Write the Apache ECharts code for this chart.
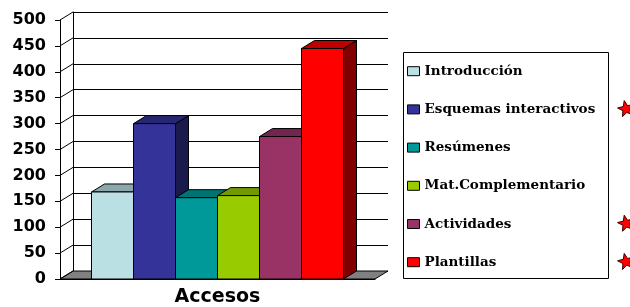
<!DOCTYPE html>
<html>
<head>
<meta charset="utf-8">
<script src="https://cdn.jsdelivr.net/npm/echarts@6/dist/echarts.min.js"></script>
<style>
html, body { margin: 0; padding: 0; background: #fff; }
#chart { width: 630px; height: 307px; }
</style>
</head>
<body>
<div id="chart"></div>
<script>
// datos
const categories = ['Accesos'];
const seriesNames = ['Introducción', 'Esquemas interactivos', 'Resúmenes', 'Mat.Complementario', 'Actividades', 'Plantillas'];
const seriesValues = [168, 300, 157, 161, 275, 445];
const yTicks = [0, 50, 100, 150, 200, 250, 300, 350, 400, 450, 500];
const starred = ['Esquemas interactivos', 'Actividades', 'Plantillas'];

const colors = ['#BBE0E3', '#333399', '#009999', '#99CC00', '#993366', '#FF0000'];
const DX = 13, DY = 8; // profundidad 3D

function shade(hex, f) {
  const n = parseInt(hex.slice(1), 16);
  const r = Math.round(((n >> 16) & 255) * f);
  const g = Math.round(((n >> 8) & 255) * f);
  const b = Math.round((n & 255) * f);
  return 'rgb(' + r + ',' + g + ',' + b + ')';
}

function renderBar(i) {
  return function (params, api) {
    const band = api.size([1, 0])[0];
    const w = band * 0.8 / seriesNames.length;
    const top = api.coord([api.value(0), api.value(1)]);
    const base = api.coord([api.value(0), 0]);
    const x0 = top[0] - band * 0.4 + i * w, x1 = x0 + w;
    const yt = top[1], yb = base[1];
    const col = colors[i];
    return {
      type: 'group',
      children: [
        { type: 'polygon', shape: { points: [[x1, yt], [x1 + DX, yt - DY], [x1 + DX, yb - DY], [x1, yb]] },
          style: { fill: shade(col, 0.5), stroke: '#000', lineWidth: 1 } },
        { type: 'polygon', shape: { points: [[x0, yt], [x1, yt], [x1 + DX, yt - DY], [x0 + DX, yt - DY]] },
          style: { fill: shade(col, 0.75), stroke: '#000', lineWidth: 1 } },
        { type: 'rect', shape: { x: x0, y: yt, width: w, height: yb - yt },
          style: { fill: col, stroke: '#000', lineWidth: 1 } }
      ]
    };
  };
}

function renderWall(params, api) {
  const cs = params.coordSys;
  const y = api.coord([0, api.value(1)])[1];
  const children = [
    { type: 'line', shape: { x1: cs.x, y1: y, x2: cs.x + DX, y2: y - DY }, style: { stroke: '#000', lineWidth: 1 } }
  ];
  if (params.dataIndex === 0) {
    const yb = cs.y + cs.height, xr = cs.x + cs.width;
    children.unshift({
      type: 'polygon',
      shape: { points: [[cs.x, yb], [xr, yb], [xr + DX, yb - DY], [cs.x + DX, yb - DY]] },
      style: { fill: '#808080', stroke: '#000', lineWidth: 1 }
    });
  }
  return { type: 'group', children: children };
}

function starPoints(cx, cy, ro, ri, rot) {
  const pts = [];
  for (let j = 0; j < 10; j++) {
    const r = j % 2 ? ri : ro;
    const a = (-90 + rot + j * 36) * Math.PI / 180;
    pts.push([cx + r * Math.cos(a), cy + r * Math.sin(a)]);
  }
  return pts;
}

const series = [{
  type: 'custom',
  name: 'wall',
  xAxisIndex: 0, yAxisIndex: 0,
  renderItem: renderWall,
  data: yTicks.map(v => [0, v]),
  clip: false,
  silent: true
}];
seriesNames.forEach((name, i) => {
  series.push({
    type: 'custom',
    name: name,
    xAxisIndex: 0, yAxisIndex: 0,
    itemStyle: { color: colors[i] },
    renderItem: renderBar(i),
    encode: { x: 0, y: 1 },
    data: [[0, seriesValues[i]]],
    clip: false
  });
});

const graphic = [{
  type: 'rect', left: 401, top: 50,
  shape: { width: 205, height: 226 },
  style: { fill: 'none', stroke: '#000', lineWidth: 1 }
}];
starred.forEach(name => {
  const idx = seriesNames.indexOf(name);
  graphic.push({
    type: 'polygon',
    shape: { points: starPoints(626, 70.7 + idx * 38.2, 8.5, 3.6, -12) },
    style: { fill: '#FF0000', stroke: '#400000', lineWidth: 1 },
    z: 10
  });
});

const chart = echarts.init(document.getElementById('chart'));
chart.setOption({
  animation: false,
  backgroundColor: '#fff',
  grid: [
    { left: 60, top: 20, width: 315, height: 259 },
    { left: 73, top: 12, width: 315, height: 259 }
  ],
  xAxis: [
    {
      gridIndex: 0, type: 'category', data: categories,
      axisLine: { lineStyle: { color: '#000' } },
      axisTick: { length: 7, lineStyle: { color: '#000' } },
      axisLabel: { margin: 9, fontFamily: 'DejaVu Sans', fontWeight: 'bold', fontSize: 19, color: '#000' }
    },
    { gridIndex: 1, type: 'category', data: categories, show: false }
  ],
  yAxis: [
    {
      gridIndex: 0, type: 'value', min: 0, max: 500, interval: 50,
      axisLine: { show: true, lineStyle: { color: '#000' } },
      axisTick: { show: true, length: 5, lineStyle: { color: '#000' } },
      splitLine: { show: false },
      axisLabel: { margin: 14, fontFamily: 'DejaVu Sans', fontWeight: 'bold', fontSize: 16, color: '#000' }
    },
    {
      gridIndex: 1, type: 'value', min: 0, max: 500, interval: 50,
      axisLine: { show: true, lineStyle: { color: '#000' } },
      axisTick: { show: false },
      axisLabel: { show: false },
      splitLine: { show: true, lineStyle: { color: '#000' } }
    }
  ],
  legend: {
    data: seriesNames,
    orient: 'vertical',
    left: 407, top: 63.7,
    padding: 0,
    itemGap: 23.2,
    itemWidth: 12, itemHeight: 9,
    icon: 'rect',
    selectedMode: false,
    itemStyle: { borderColor: '#000', borderWidth: 1 },
    textStyle: { fontFamily: 'DejaVu Serif', fontWeight: 'bold', fontSize: 13.5, color: '#000', lineHeight: 15 }
  },
  graphic: graphic,
  series: series
});
</script>
</body>
</html>
